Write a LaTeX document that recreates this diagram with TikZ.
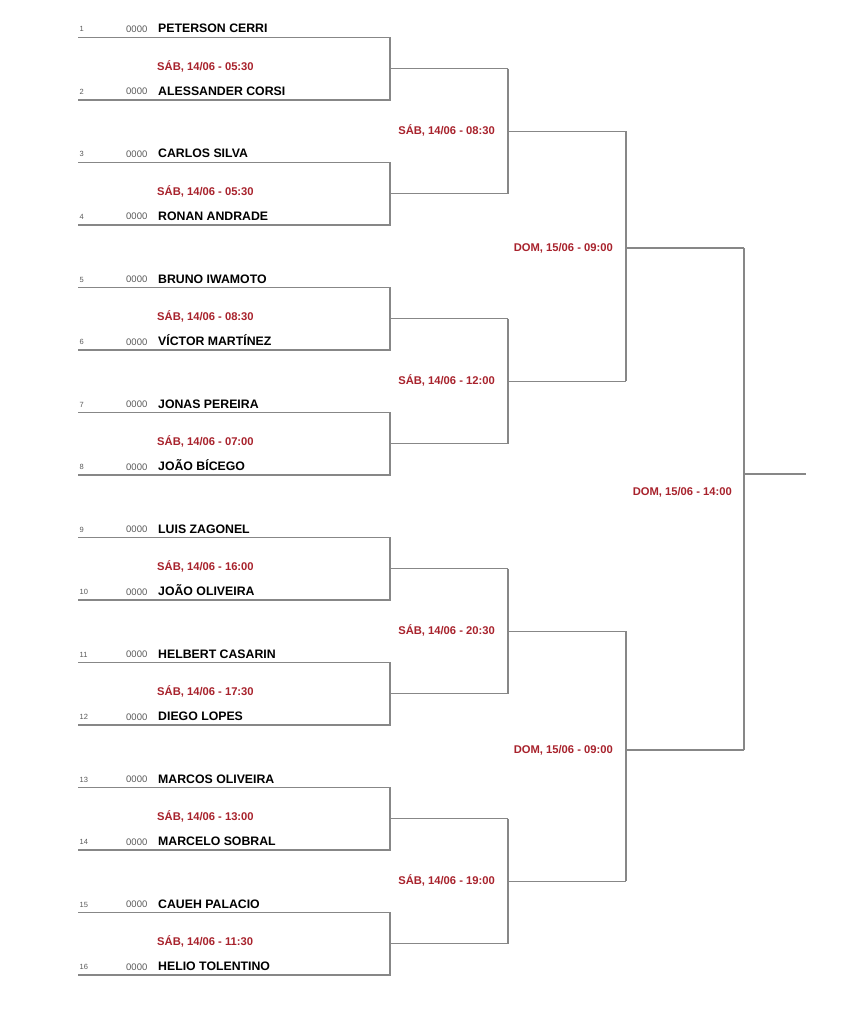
\documentclass[tikz,border=0pt]{standalone}
\usepackage{fontspec}
\setmainfont{Liberation Sans}
\definecolor{lin}{RGB}{135,135,135}
\definecolor{dtc}{RGB}{168,34,44}
\definecolor{codec}{RGB}{90,90,90}
\begin{document}
\begin{tikzpicture}[x=1pt,y=-1pt,
  bline/.style={draw=lin,line width=1.3pt},
  pname/.style={font=\fontsize{12.3}{14}\selectfont\bfseries,anchor=base west,inner sep=0pt},
  pcode/.style={font=\fontsize{9.5}{11}\selectfont,text=codec,anchor=base west,inner sep=0pt},
  pnum/.style={font=\fontsize{7.5}{9}\selectfont,text=codec,anchor=base west,inner sep=0pt},
  dlabel/.style={font=\fontsize{11.2}{13}\selectfont\bfseries,text=dtc,inner sep=0pt}]
\useasboundingbox (0,0) rectangle (865,1024);
\fill[white] (0,0) rectangle (865,1024);

% players
\foreach \i/\nm in {1/PETERSON CERRI,2/ALESSANDER CORSI,3/CARLOS SILVA,4/RONAN ANDRADE,
  5/BRUNO IWAMOTO,6/VÍCTOR MARTÍNEZ,7/JONAS PEREIRA,8/JOÃO BÍCEGO,
  9/LUIS ZAGONEL,10/JOÃO OLIVEIRA,11/HELBERT CASARIN,12/DIEGO LOPES,
  13/MARCOS OLIVEIRA,14/MARCELO SOBRAL,15/CAUEH PALACIO,16/HELIO TOLENTINO}{
  \pgfmathsetmacro\yy{37.5+(\i-1)*62.5}
  \coordinate (p\i) at (78,\yy);
  \coordinate (q\i) at (390,\yy);
  \node[pnum] (n\i) at (79.5,\yy-5.5) {\i};
  \node[pcode] (c\i) at (126,\yy-5) {0000};
  \node[pname] (a\i) at (158,\yy-4.5) {\nm};
}

% round 1
\foreach \k/\tm in {1/05:30,2/05:30,3/08:30,4/07:00,5/16:00,6/17:30,7/13:00,8/11:30}{
  \pgfmathtruncatemacro\a{2*\k-1}
  \pgfmathtruncatemacro\b{2*\k}
  \pgfmathsetmacro\my{37.5+(2*\k-2)*62.5+31.25}
  \coordinate (m\k) at (390,\my);
  \coordinate (s\k) at (508,\my);
  \draw[bline] (p\a) -- (q\a) -- (q\b) -- (p\b);
  \draw[bline] (m\k) -- (s\k);
  \node[dlabel,anchor=base west] (d\k) at (157,\my+1.5) {SÁB, 14/06 - \tm};
}

% round 2
\foreach \j/\tm in {1/08:30,2/12:00,3/20:30,4/19:00}{
  \pgfmathtruncatemacro\a{2*\j-1}
  \pgfmathtruncatemacro\b{2*\j}
  \pgfmathsetmacro\my{37.5+(4*\j-4)*62.5+93.75}
  \coordinate (t\j) at (508,\my);
  \coordinate (u\j) at (626,\my);
  \draw[bline] (s\a) -- (s\b);
  \draw[bline] (t\j) -- (u\j);
  \node[dlabel,anchor=east] (e\j) at (495,\my-1) {SÁB, 14/06 - \tm};
}

% round 3
\coordinate (v1) at (626,248);
\coordinate (w1) at (744,248);
\coordinate (v2) at (626,750);
\coordinate (w2) at (744,750);
\draw[bline] (u1) -- (u2);
\draw[bline] (u3) -- (u4);
\draw[bline] (v1) -- (w1);
\draw[bline] (v2) -- (w2);
\node[dlabel,anchor=east] (g1) at (613,248) {DOM, 15/06 - 09:00};
\node[dlabel,anchor=east] (g2) at (613,750) {DOM, 15/06 - 09:00};

% final
\coordinate (f1) at (744,474);
\coordinate (f2) at (806,474);
\draw[bline] (w1) -- (w2);
\draw[bline] (f1) -- (f2);
\node[dlabel,anchor=east] (h) at (732,492) {DOM, 15/06 - 14:00};
\end{tikzpicture}
\end{document}
